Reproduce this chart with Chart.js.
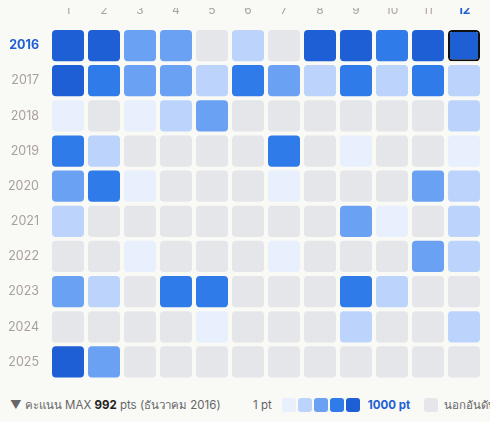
<!DOCTYPE html>
<html>
<head>
<meta charset="utf-8">
<script src="https://cdn.jsdelivr.net/npm/chart.js@4"></script>
<style>
  html, body { margin: 0; padding: 0; background: #f9f9f6; font-family: Inter, "Noto Sans", sans-serif; }
  #wrap { position: relative; width: 490px; height: 390px; }
  #legend { position: absolute; top: 396px; left: 0; width: 490px; height: 20px; font-size: 11.5px; color: #666; white-space: nowrap; }
  #legend .l { position: absolute; left: 10px; top: 0; line-height: 18px; }
  #legend .r { position: absolute; left: 253px; top: 0; line-height: 18px; display: flex; align-items: center; white-space: nowrap; }
  .sw { display: inline-block; width: 14px; height: 14px; border-radius: 3px; margin-right: 2px; flex: none; }
</style>
</head>
<body>
<div id="wrap"><canvas id="c"></canvas></div>
<div id="legend">
  <div class="l">▼ คะแนน MAX <b style="color:#222">992</b> pts (ธันวาคม 2016)</div>
  <div class="r" id="scale"></div>
</div>
<script>
// data
const months = ['1','2','3','4','5','6','7','8','9','10','11','12'];
const years = [2016, 2017, 2018, 2019, 2020, 2021, 2022, 2023, 2024, 2025];
// level 0 = นอกอันดับ, 1..5 = score bucket
const levels = [
  [5,5,3,3,0,2,0,5,5,4,5,5],
  [5,4,3,3,2,4,3,2,4,2,4,2],
  [1,0,1,2,3,0,0,0,0,0,0,2],
  [4,2,0,0,0,0,4,0,1,0,0,1],
  [3,4,1,0,0,0,1,0,0,0,3,2],
  [2,0,0,0,0,0,0,0,3,1,0,2],
  [0,0,1,0,0,0,1,0,0,0,3,2],
  [3,2,0,4,4,0,0,0,4,2,0,0],
  [0,0,0,0,1,0,0,0,2,0,0,2],
  [5,3,0,0,0,0,0,0,0,0,0,0]
];
const palette = ['#e5e6ea', '#e8f0fd', '#bcd3fb', '#6aa1f3', '#2f7bea', '#1f5fd5'];
const maxYear = 2016, maxMonth = '12';

// legend scale
const sc = document.getElementById('scale');
sc.innerHTML = '<span style="margin-right:10px">1 pt</span>' +
  palette.slice(1).map(c => `<span class="sw" style="background:${c}"></span>`).join('') +
  '<b style="color:#1f5fd5;margin:0 14px 0 6px">1000 pt</b>' +
  `<span class="sw" style="background:${palette[0]};margin-right:6px"></span>นอกอันดับ`;

const half = 16 / 36;
const datasets = years.map((yr, r) => ({
  type: 'bar',
  data: levels[r].map(() => [yr - half, yr + half]),
  backgroundColor: levels[r].map(l => palette[l]),
  borderColor: months.map(m => (yr === maxYear && m === maxMonth) ? '#111' : 'rgba(0,0,0,0)'),
  borderWidth: months.map(m => (yr === maxYear && m === maxMonth) ? 2 : 0),
  borderRadius: 4,
  borderSkipped: false,
  barPercentage: 32 / 36,
  categoryPercentage: 1
}));
// small marker above the max month
datasets.push({
  type: 'scatter',
  data: [{ x: maxMonth, y: maxYear - 0.66 }],
  pointStyle: 'triangle',
  pointRotation: 180,
  pointRadius: 4,
  pointBackgroundColor: '#111',
  pointBorderColor: '#111',
  pointBorderWidth: 0,
  clip: false
});

new Chart(document.getElementById('c'), {
  data: { labels: months, datasets },
  options: {
    responsive: true,
    maintainAspectRatio: false,
    animation: false,
    grouped: false,
    layout: { padding: { top: 8, right: 8, bottom: 2 } },
    plugins: { legend: { display: false }, tooltip: { enabled: false } },
    scales: {
      x: {
        position: 'top',
        grid: { display: false },
        border: { display: false },
        afterFit: s => { s.height = 20; },
        ticks: {
          padding: 2,
          color: c => c.tick.label === maxMonth ? '#1f5fd5' : '#aaa3a3',
          font: c => ({ size: 12, weight: c.tick && c.tick.label === maxMonth ? 'bold' : 'normal', family: 'Inter' })
        }
      },
      y: {
        type: 'linear',
        reverse: true,
        min: 2015.5,
        max: 2025.5,
        grid: { display: false },
        border: { display: false },
        afterFit: s => { s.width = 50; },
        afterBuildTicks: s => { s.ticks = years.map(v => ({ value: v })); },
        ticks: {
          padding: 3,
          callback: v => String(v),
          color: c => c.tick.value === maxYear ? '#1f5fd5' : '#a89f9f',
          font: c => ({ size: 12.5, weight: c.tick && c.tick.value === maxYear ? 'bold' : 'normal', family: 'Inter' })
        }
      }
    }
  }
});
</script>
</body>
</html>
